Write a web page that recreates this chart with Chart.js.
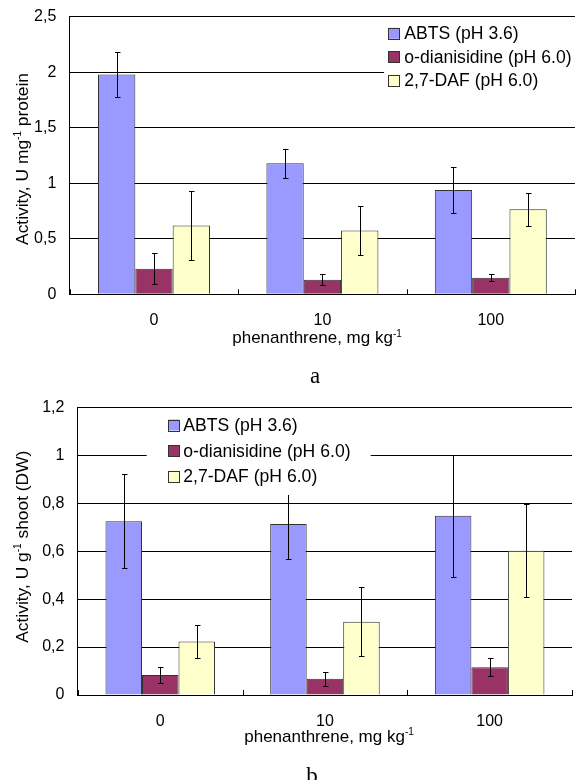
<!DOCTYPE html>
<html><head><meta charset="utf-8">
<script src="https://cdn.jsdelivr.net/npm/chart.js@4"></script>
<style>
html,body{margin:0;padding:0;background:#fff;overflow:hidden;width:576px;height:780px}
.wrap{position:absolute;left:0;width:576px;height:390px}
</style></head><body>
<div class="wrap" style="top:0"><canvas id="ca" width="576" height="390"></canvas></div>
<div class="wrap" style="top:390px"><canvas id="cb" width="576" height="390"></canvas></div>
<script>
// ---- data ----
const categories = ['0', '10', '100'];
const seriesNames = ['ABTS (pH 3.6)', 'o-dianisidine (pH 6.0)', '2,7-DAF (pH 6.0)'];
const seriesColors = ['#9999FF', '#993366', '#FFFFCC'];

// panel a: activity, U mg-1 protein
const abtsA = [1.98, 1.18, 0.94];
const dianA = [0.23, 0.13, 0.15];
const dafA = [0.62, 0.575, 0.765];
const abtsErrA = [0.20, 0.13, 0.21];
const dianErrA = [0.14, 0.05, 0.03];
const dafErrA = [0.31, 0.22, 0.146];
const yTicksA = ['0', '0,5', '1', '1,5', '2', '2,5'];

// panel b: activity, U g-1 shoot (DW)
const abtsB = [0.725, 0.713, 0.748];
const dianB = [0.083, 0.068, 0.116];
const dafB = [0.223, 0.306, 0.602];
const abtsErrB = [0.195, 0.144, 0.254];
const dianErrB = [0.035, 0.029, 0.038];
const dafErrB = [0.067, 0.143, 0.194];
const yTicksB = ['0', '0,2', '0,4', '0,6', '0,8', '1', '1,2'];

// titles: [normal, superscript, normal]
const xTitleParts = ['phenanthrene, mg kg', '-1', ''];
const yTitlePartsA = ['Activity, U mg', '-1', ' protein'];
const yTitlePartsB = ['Activity, U g', '-1', ' shoot (DW)'];
const captionA = 'a';
const captionB = 'b';

// ---- rendering ----
const FONT = '"Liberation Sans", Arial, Helvetica, sans-serif';
Chart.defaults.font.family = FONT;
Chart.defaults.color = '#000';

function drawRich(ctx, parts, x, y, size) {
  const supSize = Math.round(size * 0.6);
  const segs = parts.map((t, i) => ({ t, sup: i === 1 }));
  let total = 0;
  segs.forEach(s => {
    ctx.font = (s.sup ? supSize : size) + 'px ' + FONT;
    s.w = ctx.measureText(s.t).width;
    total += s.w;
  });
  let cx = x - total / 2;
  ctx.textAlign = 'left';
  ctx.textBaseline = 'alphabetic';
  segs.forEach(s => {
    ctx.font = (s.sup ? supSize : size) + 'px ' + FONT;
    ctx.fillText(s.t, cx, s.sup ? y - size * 0.38 : y);
    cx += s.w;
  });
}

function makeChart(id, values, errors, yTicks, L) {
  const decor = {
    id: 'decor',
    afterDatasetsDraw(chart) {
      const ctx = chart.ctx;
      const ys = chart.scales.y, xs = chart.scales.x;
      const area = chart.chartArea;
      ctx.save();
      // error bars
      ctx.strokeStyle = '#000';
      ctx.lineWidth = 1;
      chart.data.datasets.forEach((ds, di) => {
        const meta = chart.getDatasetMeta(di);
        meta.data.forEach((bar, i) => {
          const v = ds.data[i], e = ds.errors[i];
          const x = Math.round(bar.x) + 0.5;
          const yt = Math.round(ys.getPixelForValue(v + e)) + 0.5;
          const yb = Math.round(ys.getPixelForValue(v - e)) + 0.5;
          ctx.beginPath();
          ctx.moveTo(x, yt); ctx.lineTo(x, yb);
          ctx.moveTo(x - 2.5, yt); ctx.lineTo(x + 3, yt);
          ctx.moveTo(x - 2.5, yb); ctx.lineTo(x + 3, yb);
          ctx.stroke();
        });
      });
      // inward category tick marks on x axis
      ctx.beginPath();
      for (let i = 0; i <= categories.length; i++) {
        const x = Math.round(xs.getPixelForValue(i - 0.5)) + 0.5;
        ctx.moveTo(x, area.bottom);
        ctx.lineTo(x, area.bottom - 5);
      }
      ctx.stroke();
      // legend
      ctx.fillStyle = '#fff';
      ctx.fillRect(L.legBg[0], L.legBg[1], L.legBg[2], L.legBg[3]);
      ctx.font = '17.6px ' + FONT;
      ctx.textBaseline = 'middle';
      ctx.textAlign = 'left';
      chart.data.datasets.forEach((ds, di) => {
        const ry = L.legRows[di];
        ctx.fillStyle = ds.backgroundColor;
        ctx.fillRect(L.legBox, ry - 5.5, 11, 11);
        ctx.strokeStyle = '#333';
        ctx.strokeRect(Math.round(L.legBox) + 0.5, Math.round(ry - 5.5) + 0.5, 11, 11);
        ctx.fillStyle = '#000';
        ctx.fillText(ds.label, L.legText, ry + 1);
      });
      // axis titles
      ctx.fillStyle = '#000';
      drawRich(ctx, xTitleParts, L.xTitle[0], L.xTitle[1], 17);
      ctx.save();
      ctx.translate(L.yTitle[0], L.yTitle[1]);
      ctx.rotate(-Math.PI / 2);
      drawRich(ctx, L.yParts, 0, 0, 17.4);
      ctx.restore();
      // caption
      ctx.font = '23px "Liberation Serif", "Times New Roman", serif';
      ctx.textAlign = 'center';
      ctx.textBaseline = 'alphabetic';
      ctx.fillText(L.caption, L.cap[0], L.cap[1]);
      ctx.restore();
    }
  };

  return new Chart(document.getElementById(id), {
    type: 'bar',
    data: {
      labels: categories,
      datasets: values.map((vals, i) => ({
        label: seriesNames[i],
        data: vals,
        errors: errors[i],
        backgroundColor: seriesColors[i],
        borderColor: '#333',
        borderWidth: 1,
        barPercentage: 1,
        categoryPercentage: 0.665
      }))
    },
    options: {
      responsive: false,
      animation: false,
      events: [],
      layout: { padding: { top: L.top, right: L.padRight, bottom: 0, left: 0 } },
      plugins: { legend: { display: false }, tooltip: { enabled: false } },
      scales: {
        x: {
          grid: { display: false, drawTicks: false },
          border: { display: true, color: '#000', width: 1 },
          ticks: { font: { size: 16 }, padding: 17, color: '#000' },
          afterFit(s) { s.height = L.xh; s.paddingLeft = 0; s.paddingRight = 0; }
        },
        y: {
          min: 0, max: L.max,
          grid: { color: '#000', lineWidth: 1, drawTicks: false },
          border: { display: true, color: '#000', width: 1 },
          ticks: {
            stepSize: L.step, padding: 13.5, font: { size: 16 }, color: '#000',
            callback: (v, i) => yTicks[i]
          },
          afterFit(s) { s.width = L.left; s.paddingTop = 0; s.paddingBottom = 0; }
        }
      }
    },
    plugins: [decor]
  });
}

makeChart('ca', [abtsA, dianA, dafA], [abtsErrA, dianErrA, dafErrA], yTicksA, {
  left: 69.8, padRight: 1, top: 16.7, xh: 390 - 294.3, max: 2.5, step: 0.5,
  legBg: [384, 19, 192, 73], legBox: 388.3, legText: 404.3, legRows: [33.3, 56.7, 80],
  xTitle: [317, 343], yTitle: [28, 159], yParts: yTitlePartsA,
  caption: captionA, cap: [315, 383]
});

makeChart('cb', [abtsB, dianB, dafB], [abtsErrB, dianErrB, dafErrB], yTicksB, {
  left: 77.9, padRight: 4, top: 17.3, xh: 390 - 305, max: 1.2, step: 0.2,
  legBg: [146.7, 21, 224, 84], legBox: 168.3, legText: 183.3, legRows: [35, 60.7, 86],
  xTitle: [329, 351.7], yTitle: [28, 156.7], yParts: yTitlePartsB,
  caption: captionB, cap: [312, 393]
});
</script>
</body></html>
